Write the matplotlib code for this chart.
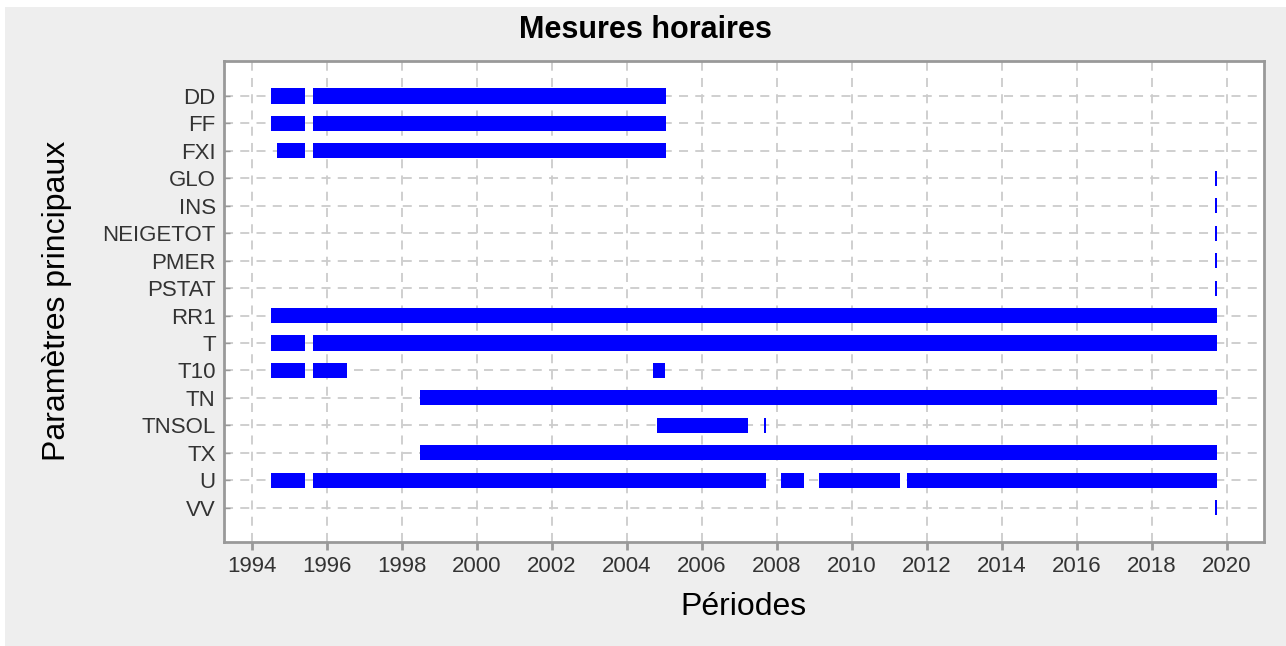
import matplotlib
matplotlib.use('Agg')
import matplotlib.pyplot as plt
from matplotlib.patches import Rectangle

plt.rcParams['font.family'] = ['Liberation Sans', 'DejaVu Sans']

# parametres, de haut en bas
params = ['DD', 'FF', 'FXI', 'GLO', 'INS', 'NEIGETOT', 'PMER', 'PSTAT',
          'RR1', 'T', 'T10', 'TN', 'TNSOL', 'TX', 'U', 'VV']

# periodes de mesure (annee decimale debut, fin)
DD = [(1994.50, 1995.41), (1995.62, 2005.04)]
FF = [(1994.50, 1995.41), (1995.62, 2005.04)]
FXI = [(1994.66, 1995.41), (1995.62, 2005.04)]
GLO = [(2019.70, 2019.74)]
INS = [(2019.70, 2019.74)]
NEIGETOT = [(2019.70, 2019.74)]
PMER = [(2019.70, 2019.74)]
PSTAT = [(2019.70, 2019.74)]
RR1 = [(1994.50, 2019.74)]
T = [(1994.50, 1995.41), (1995.62, 2019.74)]
T10 = [(1994.50, 1995.41), (1995.62, 1996.53), (2004.70, 2005.01)]
TN = [(1998.48, 2019.74)]
TNSOL = [(2004.80, 2007.23), (2007.67, 2007.72)]
TX = [(1998.48, 2019.74)]
U = [(1994.50, 1995.41), (1995.62, 2007.71), (2008.11, 2008.72),
     (2009.12, 2011.28), (2011.47, 2019.74)]
VV = [(2019.70, 2019.74)]

periods = [DD, FF, FXI, GLO, INS, NEIGETOT, PMER, PSTAT,
           RR1, T, T10, TN, TNSOL, TX, U, VV]

years = list(range(1994, 2021, 2))

W, H = 1286, 646
fig = plt.figure(figsize=(W / 100, H / 100), dpi=100, facecolor='white')
# fond gris avec petite marge blanche en haut et a gauche
fig.patches.append(Rectangle((5 / W, 0), 1, 1 - 7 / H,
                             transform=fig.transFigure, facecolor='#eeeeee',
                             edgecolor='none', zorder=-10))

ax = fig.add_axes([224 / W, 1 - 542 / H, 1040 / W, 481 / H])
ax.set_facecolor('white')

for i, segs in enumerate(periods):
    for start, end in segs:
        ax.barh(i, end - start, left=start, height=0.55, color='#0000ff',
                edgecolor='none', zorder=3)

ax.set_xlim(1993.25, 2021.0)
ax.set_ylim(len(params) - 1 + 1.25, -1.275)
ax.set_xticks(years)
ax.set_yticks(range(len(params)))
ax.set_yticklabels(params)

ax.grid(True, color='#cccccc', linestyle=(0, (5, 4)), linewidth=1.3, zorder=0)
for s in ax.spines.values():
    s.set_color('#999999')
    s.set_linewidth(2)

ax.tick_params(axis='x', direction='out', length=6, width=2, color='#999999',
               labelsize=16, labelcolor='#333333', pad=4)
ax.tick_params(axis='y', direction='in', length=4, width=1, color='#999999',
               labelsize=16, labelcolor='#333333', pad=6)

fig.text(645 / W, 1 - 30 / H, 'Mesures horaires', fontsize=22,
         fontweight='bold', ha='center', va='center')
fig.text(743 / W, 1 - 607 / H, 'Périodes', fontsize=23,
         ha='center', va='center')
fig.text(57 / W, 1 - 301 / H, 'Paramètres principaux', fontsize=23,
         rotation=90, ha='center', va='center')

fig.savefig('out.png', dpi=100, facecolor=fig.get_facecolor())
